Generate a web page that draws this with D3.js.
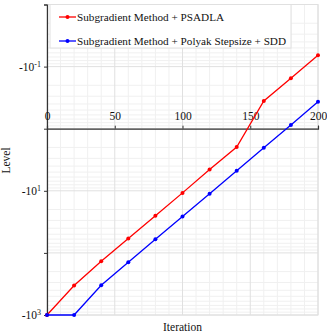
<!DOCTYPE html>
<html>
<head>
    <meta charset="utf-8">
    <script src="https://cdn.jsdelivr.net/npm/d3@7/dist/d3.min.js"></script>
    <style>
        body { margin: 0; background: #fff; }
        svg text { font-family: "Liberation Serif", "Times New Roman", serif !important; }
    </style>
</head>
<body>
<div id="graph"></div>
<script>

// data
const iterations = [0, 20, 40, 60, 80, 100, 120, 140, 160, 180, 200];
const psadla = [-1000, -336, -136, -58.6, -25.3, -10.8, -4.52, -1.97, -0.357, -0.154, -0.0655];
const polyak = [-1000, -1000, -332, -141, -60.1, -25.9, -11.2, -4.75, -2.02, -0.87, -0.367];
const seriesNames = ["Subgradient Method + PSADLA", "Subgradient Method + Polyak Stepsize + SDD"];
const seriesColors = ["#ff0000", "#0000ff"];
const xTicks = [0, 50, 100, 150, 200];
const yDecades = [-0.01, -0.1, -1, -10, -100, -1000];
const yLabelled = [-0.1, -10, -1000];

const margin = {top: 4.5, right: 9, bottom: 18, left: 47},
    width = 327 - margin.left - margin.right,
    height = 333 - margin.top - margin.bottom;

const svg = d3.select("#graph")
  .append("svg")
    .attr("width", 327)
    .attr("height", 333)
    .attr("font-family", "Liberation Serif, serif")
  .append("g")
    .attr("transform", `translate(${margin.left},${margin.top})`);

const x = d3.scaleLinear().domain([0, 200]).range([0, width]);
const y = d3.scaleLog().domain([-1000, -0.01]).range([height, 0]);

// minor grid
for (let i = 10; i <= 200; i += 10) {
    if (i % 50 == 0) continue;
    svg.append("line")
        .style("stroke", "#f0f0f0")
        .attr("x1", x(i)).attr("x2", x(i))
        .attr("y1", 0).attr("y2", height);
}
for (let d = 0.01; d < 1000; d *= 10) {
    for (let k = 2; k < 10; k++) {
        let v = -d * k;
        svg.append("line")
            .style("stroke", "#f0f0f0")
            .attr("x1", 0).attr("x2", width)
            .attr("y1", y(v)).attr("y2", y(v));
    }
}
// major grid
xTicks.forEach(t => {
    svg.append("line")
        .style("stroke", "#e0e0e0")
        .attr("x1", x(t)).attr("x2", x(t))
        .attr("y1", 0).attr("y2", height);
});
yDecades.forEach(t => {
    svg.append("line")
        .style("stroke", "#e0e0e0")
        .attr("x1", 0).attr("x2", width)
        .attr("y1", y(t)).attr("y2", y(t));
});

// frame (top / right)
svg.append("rect")
    .attr("x", 0).attr("y", 0)
    .attr("width", width).attr("height", height)
    .attr("fill", "none")
    .attr("stroke", "#e0e0e0");

// y axis
const yAxis = svg.append("g")
    .call(d3.axisLeft(y).tickValues(yDecades).tickSize(3).tickPadding(5).tickFormat(""));
yAxis.select(".domain").attr("stroke", "#333").attr("stroke-width", 1.2);
yAxis.selectAll(".tick line").attr("stroke", "#333");
yLabelled.forEach(v => {
    let e = Math.round(Math.log10(-v));
    let t = svg.append("text")
        .attr("x", -6)
        .attr("y", y(v) + 4)
        .attr("text-anchor", "end")
        .attr("font-size", 11.5)
        .attr("fill", "#111");
    t.append("tspan").text("-10");
    t.append("tspan").attr("dy", -4).attr("font-size", 8).text(e);
});

// x axis sits at level -1
const xAxis = svg.append("g")
    .attr("transform", `translate(0,${y(-1)})`)
    .call(d3.axisTop(x).tickValues(xTicks).tickSize(3).tickPadding(6));
xAxis.attr("font-family", "Liberation Serif, serif");
xAxis.select(".domain").attr("stroke", "#333").attr("stroke-width", 1.2);
xAxis.selectAll(".tick line").attr("stroke", "#333");
xAxis.selectAll(".tick text")
    .attr("font-size", 11.5)
    .attr("fill", "#111");

// lines
const line = d3.line()
    .x((d) => { return x(d[0]) })
    .y((d) => { return y(d[1]) });

[psadla, polyak].forEach((vals, i) => {
    let pts = iterations.map((it, j) => [it, vals[j]]);
    svg.append("path")
        .datum(pts)
        .attr("fill", "none")
        .attr("stroke", seriesColors[i])
        .attr("stroke-width", 1.3)
        .attr("d", line);
    svg.selectAll(".pt" + i)
        .data(pts)
        .enter().append("circle")
        .attr("cx", d => x(d[0]))
        .attr("cy", d => y(d[1]))
        .attr("r", 2)
        .attr("fill", seriesColors[i]);
});

// legend
const legend = svg.append("g").attr("transform", "translate(3,0)");
legend.append("rect")
    .attr("x", 0).attr("y", 0)
    .attr("width", 241).attr("height", 43.5)
    .attr("fill", "#fff")
    .attr("stroke", "#e0e0e0");
seriesNames.forEach((name, i) => {
    let ly = 12.5 + i * 24;
    legend.append("line")
        .attr("x1", 9).attr("x2", 26)
        .attr("y1", ly).attr("y2", ly)
        .attr("stroke", seriesColors[i])
        .attr("stroke-width", 1.3);
    legend.append("circle")
        .attr("cx", 17.5).attr("cy", ly).attr("r", 2)
        .attr("fill", seriesColors[i]);
    legend.append("text")
        .attr("x", 27).attr("y", ly + 4)
        .attr("font-size", 11.2)
        .attr("fill", "#111")
        .text(name);
});

// axis titles
svg.append("text")
    .attr("x", width / 2)
    .attr("y", height + 16)
    .attr("text-anchor", "middle")
    .attr("font-size", 11.5)
    .attr("fill", "#111")
    .text("Iteration");

svg.append("text")
    .attr("transform", `translate(${-37},${156}) rotate(-90)`)
    .attr("text-anchor", "middle")
    .attr("font-size", 11.5)
    .attr("fill", "#111")
    .text("Level");

</script>
</body>
</html>
